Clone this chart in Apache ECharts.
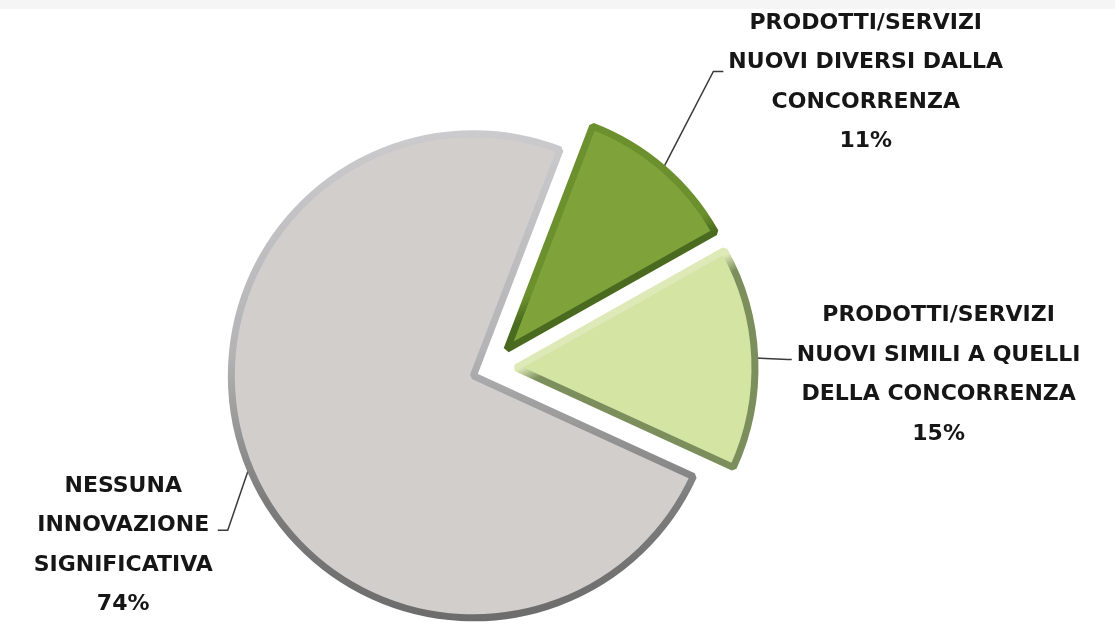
<!DOCTYPE html>
<html>
<head>
<meta charset="utf-8">
<script src="https://cdn.jsdelivr.net/npm/echarts@6/dist/echarts.min.js"></script>
<style>
  html, body { margin: 0; padding: 0; background: #ffffff; }
  #chart { width: 1115px; height: 626px; }
  #topband { position: absolute; left: 0; top: 0; width: 1115px; height: 9px; background: #f5f5f5; }
</style>
</head>
<body>
<div id="chart"></div>
<div id="topband"></div>
<script>
// ---- data ----
const categories = [
  'PRODOTTI/SERVIZI\nNUOVI DIVERSI DALLA\nCONCORRENZA',
  'PRODOTTI/SERVIZI\nNUOVI SIMILI A QUELLI\nDELLA CONCORRENZA',
  'NESSUNA\nINNOVAZIONE\nSIGNIFICATIVA'
];
const values = [11, 15, 74];

// ---- styles ----
const fills = ['#7fa23a', '#d3e4a3', '#d1cecc'];
function grad(x2, y2, stops) {
  return new echarts.graphic.LinearGradient(0, 0, x2, y2,
    stops.map(s => ({ offset: s[0], color: s[1] })));
}
const borders = [
  grad(0.5, 1, [[0, '#6b902d'], [0.66, '#6b902d'], [0.74, '#4a6a1f'], [1, '#4a6a1f']]),
  grad(0.5, 1, [[0, '#dde9b6'], [0.43, '#dde9b6'], [0.5, '#7b8e5c'], [1, '#7b8e5c']]),
  grad(0, 1, [[0, '#cbcbcd'], [0.45, '#b4b4b6'], [0.75, '#7d7d7d'], [1, '#6c6c6c']])
];
const labelLines = [
  { length: 60, length2: 21 },
  { length: 20, length2: 17 },
  { length: 20, length2: 13 }
];
// padding [top, right, bottom, left] that places each text block against its leader line
const labelPads = [
  [0, 0, 81, 0],
  [35, 0, 0, 0],
  [141, 0, 0, 0]
];
// where the leader line meets the label, measured from the block top
const lineLevel = [68, 64, 64];
const kinkLen = [10, 4, 10];

const fontFam = '"DejaVu Sans", sans-serif';
const lineH = 39.5;
const nLines = 4;

function makeSeries(showIdx, offset, radius) {
  return {
    type: 'pie',
    center: [490, 369],
    radius: radius,
    startAngle: 69,
    clockwise: true,
    avoidLabelOverlap: false,
    selectedMode: 'multiple',
    selectedOffset: offset,
    select: { itemStyle: {} },
    emphasis: { disabled: true },
    data: values.map((v, i) => {
      const vis = showIdx.indexOf(i) >= 0;
      return {
        name: categories[i],
        value: v,
        selected: true,
        itemStyle: vis
          ? { color: fills[i], borderColor: borders[i], borderWidth: 7, borderJoin: 'bevel' }
          : { color: 'rgba(0,0,0,0)', borderWidth: 0 },
        labelLine: Object.assign({ show: vis }, labelLines[i]),
        label: { show: vis, padding: labelPads[i] }
      };
    }),
    label: {
      position: 'outside',
      formatter: p => p.name.split('\n').concat(p.value + '%').map(l => '{t|' + l + '}').join('\n'),
      rich: {
        t: { fontFamily: fontFam, fontWeight: 'bold', fontSize: 22, lineHeight: lineH, color: '#161616', align: 'center' }
      }
    },
    labelLine: {
      lineStyle: { color: '#3a3a3a', width: 1.5 }
    },
    labelLayout: function (params) {
      const i = params.dataIndex;
      const pts = params.labelLinePoints;
      if (!pts || pts.length < 3 || showIdx.indexOf(i) < 0) return {};
      const pad = labelPads[i];
      const blockH = lineH * nLines;
      const anchor = pts[pts.length - 1];
      const textTop = anchor[1] - (blockH + pad[0] + pad[2]) / 2 + pad[0];
      const yLine = textTop + lineLevel[i];
      const dir = anchor[0] > pts[0][0] ? 1 : -1;
      return {
        labelLinePoints: [pts[0], [anchor[0] - dir * kinkLen[i], yLine], [anchor[0], yLine]]
      };
    }
  };
}

const chart = echarts.init(document.getElementById('chart'), null, { renderer: 'canvas' });
chart.setOption({
  backgroundColor: '#ffffff',
  animation: false,
  series: [makeSeries([2], 18, 242), makeSeries([0, 1], 26, 239)]
});
</script>
</body>
</html>
